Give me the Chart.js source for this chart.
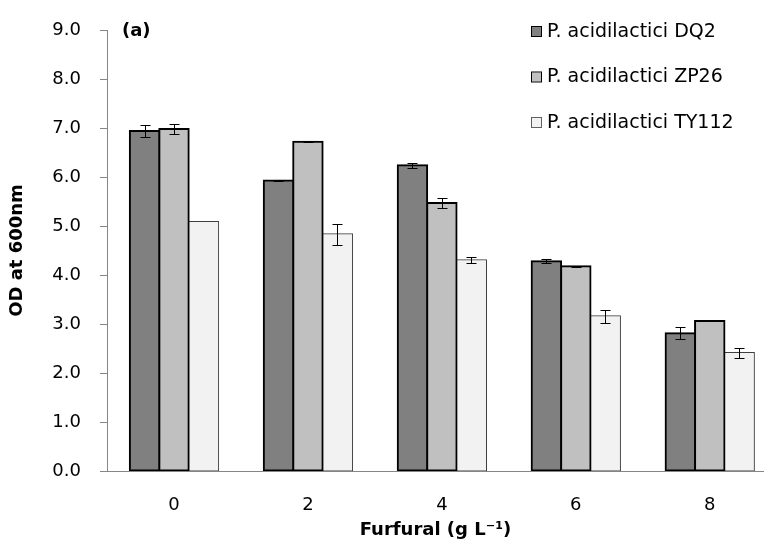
<!DOCTYPE html>
<html>
<head>
<meta charset="utf-8">
<script src="https://cdn.jsdelivr.net/npm/chart.js@4.4.1/dist/chart.umd.min.js"></script>
<style>
  html, body { margin: 0; padding: 0; background: #fff; overflow: hidden; }
  #wrap { width: 764px; height: 545px; }
</style>
</head>
<body>
<div id="wrap"><canvas id="grafico"></canvas></div>
<script>
// Datos (OD a 600 nm frente a furfural)
const furfural = [0, 2, 4, 6, 8];
const seriesNames = ['P. acidilactici DQ2', 'P. acidilactici ZP26', 'P. acidilactici TY112'];
const dq2 = [6.94, 5.93, 6.24, 4.28, 2.81];
const dq2Err = [0.12, 0.01, 0.05, 0.04, 0.12];
const zp26 = [6.98, 6.72, 5.47, 4.18, 3.06];
const zp26Err = [0.11, 0.01, 0.11, 0.01, 0];
const ty112 = [5.08, 4.83, 4.30, 3.16, 2.41];
const ty112Err = [0, 0.21, 0.06, 0.13, 0.10];
const yMax = 9;
const yStep = 0.5;

const fills = ['#808080', '#c0c0c0', '#f2f2f2'];
const borders = ['#000000', '#000000', '#404040'];
const FONT = "'DejaVu Sans', sans-serif";

function makeSet(name, vals, errs, idx) {
    return {
        label: name,
        data: furfural.map((x, i) => ({ x: x, y: vals[i] })),
        errs: errs,
        backgroundColor: fills[idx],
        borderColor: borders[idx],
        borderWidth: idx === 2 ? 1 : 2,
        borderSkipped: false,
        inflateAmount: 1,
        barPercentage: 1,
        categoryPercentage: 0.659
    };
}

// barras de error
const errorBars = {
    id: 'errorBars',
    afterDatasetsDraw(chart) {
        const ctx = chart.ctx;
        const y = chart.scales.y;
        ctx.save();
        ctx.strokeStyle = '#000';
        ctx.lineWidth = 1;
        chart.data.datasets.forEach((ds, di) => {
            const meta = chart.getDatasetMeta(di);
            meta.data.forEach((bar, i) => {
                const e = ds.errs[i];
                if (!e) return;
                const v = ds.data[i].y;
                const top = Math.round(y.getPixelForValue(v + e)) + 0.5;
                const bot = Math.round(y.getPixelForValue(v - e)) + 0.5;
                const cx = Math.round(bar.x) + 0.5;
                ctx.beginPath();
                ctx.moveTo(cx, top); ctx.lineTo(cx, bot);
                ctx.moveTo(cx - 5, top); ctx.lineTo(cx + 5, top);
                ctx.moveTo(cx - 5, bot); ctx.lineTo(cx + 5, bot);
                ctx.stroke();
            });
        });
        ctx.restore();
    }
};

// leyenda vertical dentro del área y la etiqueta (a)
const extras = {
    id: 'extras',
    afterDraw(chart) {
        const ctx = chart.ctx;
        ctx.save();
        ctx.textBaseline = 'middle';
        ctx.textAlign = 'left';
        ctx.fillStyle = '#000';
        ctx.font = 'bold 18px ' + FONT;
        ctx.fillText('(a)', 122, 31);
        ctx.font = '19px ' + FONT;
        chart.data.datasets.forEach((ds, i) => {
            const yy = 32 + i * 45.5;
            ctx.fillStyle = fills[i];
            ctx.fillRect(532, yy - 5, 9, 9);
            ctx.strokeStyle = i === 2 ? '#606060' : '#000';
            ctx.lineWidth = 1;
            ctx.strokeRect(531.5, yy - 5.5, 10, 10);
            ctx.fillStyle = '#000';
            ctx.fillText(ds.label, 547, yy);
        });
        ctx.restore();
    }
};

new Chart(document.getElementById('grafico').getContext('2d'), {
    type: 'bar',
    data: {
        datasets: [
            makeSet(seriesNames[0], dq2, dq2Err, 0),
            makeSet(seriesNames[1], zp26, zp26Err, 1),
            makeSet(seriesNames[2], ty112, ty112Err, 2)
        ]
    },
    options: {
        responsive: true,
        maintainAspectRatio: false,
        animation: false,
        layout: { padding: { top: 30, right: 0, bottom: 0, left: 0 } },
        plugins: { legend: { display: false }, tooltip: { enabled: false } },
        scales: {
            x: {
                type: 'linear',
                offset: false,
                min: -1,
                max: 8.81,
                afterBuildTicks: (s) => { s.ticks = furfural.map(v => ({ value: v })); },
                afterFit: (s) => { s.height = 74; },
                grid: { display: false, offset: false },
                border: { display: true, color: '#868686', width: 1 },
                ticks: { color: '#000', padding: 16, font: { family: FONT, size: 18 } },
                title: {
                    display: true,
                    text: 'Furfural (g L⁻¹)',
                    color: '#000',
                    padding: { top: 0, bottom: 4 },
                    font: { family: FONT, size: 18, weight: 'bold' }
                }
            },
            y: {
                min: 0,
                max: yMax,
                afterFit: (s) => { s.width = 107; },
                ticks: {
                    stepSize: yStep,
                    color: '#000',
                    padding: 19,
                    font: { family: FONT, size: 18 },
                    callback: (v) => (Math.abs(v - Math.round(v)) < 1e-6 ? v.toFixed(1) : '')
                },
                grid: { drawOnChartArea: false, drawTicks: true, tickLength: 7, color: '#868686' },
                border: { display: true, color: '#868686', width: 1 },
                title: {
                    display: true,
                    text: 'OD at 600nm',
                    color: '#000',
                    padding: { top: 7, bottom: 0 },
                    font: { family: FONT, size: 18, weight: 'bold' }
                }
            }
        }
    },
    plugins: [errorBars, extras]
});
</script>
</body>
</html>
